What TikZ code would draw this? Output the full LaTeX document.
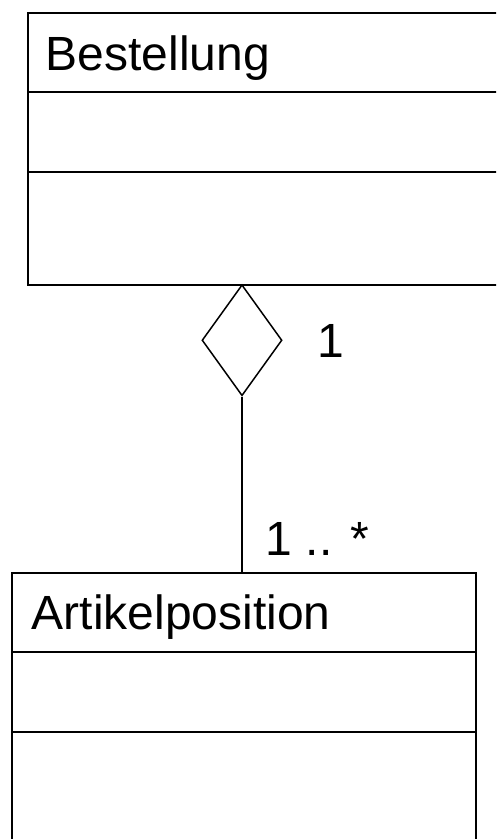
\documentclass[tikz,border=0pt]{standalone}
\usepackage{fontspec}
\setmainfont{Liberation Sans}
\usepackage{tikz}
\usetikzlibrary{shapes.geometric,positioning}

\tikzset{
  classbox/.style={draw, line width=1.5pt, rectangle, anchor=north west, inner sep=0pt, minimum height=300pt},
  classname/.style={anchor=base west, inner sep=0pt},
  mult/.style={anchor=base west, inner sep=0pt},
  aggr/.style={draw, line width=1.5pt, diamond, aspect=0.72, inner sep=0pt,
    minimum width=80pt, minimum height=111pt, anchor=north}
}

\begin{document}
\begin{tikzpicture}[x=1pt, y=-1pt, line width=1.5pt, every node/.style={font=\fontsize{48}{58}\selectfont}]
\clip (0,0) rectangle (496,839);
\fill[white] (0,0) rectangle (496,839);
% class boxes
\node[classbox, minimum width=500pt, minimum height=272pt] (best) at (27,12) {};
\node[classbox, minimum width=464pt] (art) at (11,572) {};
\node[classname] (bestname) at ([xshift=18pt, yshift=-58pt]best.north west) {Bestellung};
\node[classname] (artname) at ([xshift=20pt, yshift=-57pt]art.north west) {Artikelposition};
% compartments
\draw ([yshift=-80pt]best.north west) -- ([yshift=-80pt]best.north east);
\draw ([yshift=-160pt]best.north west) -- ([yshift=-160pt]best.north east);
\draw ([yshift=-80pt]art.north west) -- ([yshift=-80pt]art.north east);
\draw ([yshift=-160pt]art.north west) -- ([yshift=-160pt]art.north east);
% aggregation
\node[aggr] (agg) at (242,284) {};
\draw (agg.south) -- (agg.south |- art.north);
\node[mult] (m1) at (317,357) {1};
\node[mult] (m2) at (265,555) {1 .. *};
\end{tikzpicture}
\end{document}
